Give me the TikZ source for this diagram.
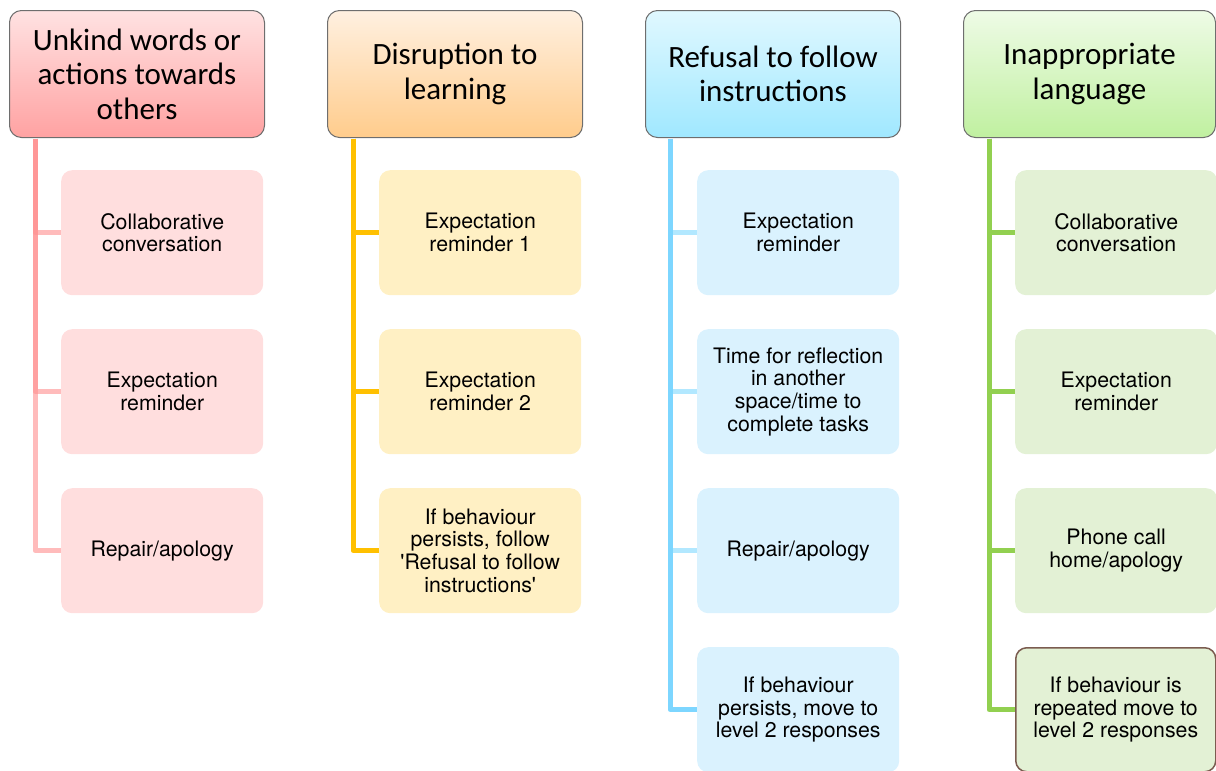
\documentclass[tikz,border=0pt]{standalone}
\usepackage{fontspec}
\setmainfont{TeX Gyre Heros}
\newfontfamily\headfont{Carlito}
\usetikzlibrary{calc}
\definecolor{rline}{RGB}{255,145,145}
\definecolor{bline}{RGB}{125,214,255}
\definecolor{blight}{RGB}{178,232,255}
\definecolor{yline}{RGB}{255,192,0}
\definecolor{gline}{RGB}{146,208,80}
\definecolor{rtop}{RGB}{255,226,226}
\definecolor{rbot}{RGB}{255,162,162}
\definecolor{ytop}{RGB}{255,240,224}
\definecolor{ybot}{RGB}{255,204,140}
\definecolor{btop}{RGB}{224,248,255}
\definecolor{bbot}{RGB}{160,232,255}
\definecolor{gtop}{RGB}{238,251,230}
\definecolor{gbot}{RGB}{192,240,160}
\definecolor{rfill}{RGB}{255,222,222}
\definecolor{yfill}{RGB}{255,240,196}
\definecolor{bfill}{RGB}{218,242,254}
\definecolor{gfill}{RGB}{227,241,213}
\definecolor{hborder}{RGB}{110,110,110}
\definecolor{brownb}{RGB}{123,92,80}
\tikzset{
  headbox/.style={draw=hborder, line width=1pt, rounded corners=12pt, anchor=north west,
    minimum width=255pt, minimum height=127pt, inner sep=0pt, align=center,
    font=\headfont\fontsize{31}{34.5}\selectfont},
  childbox/.style={rounded corners=11pt, anchor=north west, minimum width=202pt,
    minimum height=125pt, inner sep=0pt, align=center,
    font=\fontsize{21.3}{22.7}\selectfont},
  conn/.style={line width=5pt, line join=round},
}
\begin{document}
\begin{tikzpicture}[x=1pt,y=-1pt]
\useasboundingbox (0,0) rectangle (1216,771);
% column 1
\node[childbox, fill=rfill] (r1) at (61,170) {Collaborative\\conversation};
\node[childbox, fill=rfill] (r2) at (61,329) {Expectation\\reminder};
\node[childbox, fill=rfill] (r3) at (61,488) {Repair/apology};
% column 2
\node[childbox, fill=yfill] (y1) at (379,170) {Expectation\\reminder 1};
\node[childbox, fill=yfill] (y2) at (379,329) {Expectation\\reminder 2};
\node[childbox, fill=yfill] (y3) at (379,488) {If behaviour\\persists, follow\\\textquotesingle Refusal to follow\\instructions\textquotesingle};
% column 3
\node[childbox, fill=bfill] (b1) at (697,170) {Expectation\\reminder};
\node[childbox, fill=bfill] (b2) at (697,329) {Time for reflection\\in another\\space/time to\\complete tasks};
\node[childbox, fill=bfill] (b3) at (697,488) {Repair/apology};
\node[childbox, fill=bfill] (b4) at (697,647) {If behaviour\\persists, move to\\level 2 responses};
% column 4
\node[childbox, fill=gfill] (g1) at (1015,170) {Collaborative\\conversation};
\node[childbox, fill=gfill] (g2) at (1015,329) {Expectation\\reminder};
\node[childbox, fill=gfill] (g3) at (1015,488) {Phone call\\home/apology};
\node[childbox, fill=gfill, draw=brownb, line width=1.5pt, minimum width=200pt, minimum height=124pt] (g4) at (1015,647) {If behaviour is\\repeated move to\\level 2 responses};
% headers
\node[headbox, top color=rtop, bottom color=rbot] (h1) at (9,10) {Unkind words or\\actions towards\\others};
\node[headbox, top color=ytop, bottom color=ybot] (h2) at (327,10) {Disruption to\\learning};
\node[headbox, top color=btop, bottom color=bbot] (h3) at (645,10) {Refusal to follow\\instructions};
\node[headbox, top color=gtop, bottom color=gbot, minimum width=252pt] (h4) at (963,10) {Inappropriate\\language};
% anchor points on headers
\coordinate (p1) at ($(h1.south west)+(26,0)$);
\coordinate (p2) at ($(h2.south west)+(26,0)$);
\coordinate (p3) at ($(h3.south west)+(25,0)$);
\coordinate (p4) at ($(h4.south west)+(26,0)$);
% connectors
\foreach \c in {r1,r2,r3}{
  \draw[conn, draw=rline, draw opacity=0.62] ($(p1)+(0,0.5)$) |- (\c.west);
}
\foreach \c in {y1,y2,y3}{
  \draw[conn, draw=yline] ($(p2)+(0,0.5)$) |- (\c.west);
}
\foreach \c in {b1,b2,b3}{
  \draw[conn, draw=blight] (p3 |- \c.west) -- (\c.west);
}
\draw[conn, draw=bline] ($(p3)+(0,0.5)$) |- (b4.west);
\foreach \c in {g1,g2,g3,g4}{
  \draw[conn, draw=gline] ($(p4)+(0,0.5)$) |- (\c.west);
}
\end{tikzpicture}
\end{document}
